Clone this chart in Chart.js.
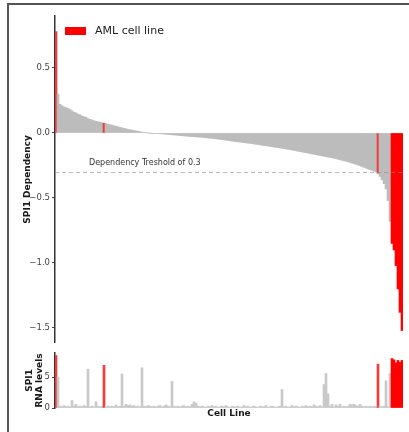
<!DOCTYPE html>
<html>
<head>
<meta charset="utf-8">
<script src="https://cdn.jsdelivr.net/npm/chart.js@4/dist/chart.umd.min.js"></script>
<style>
  html, body { margin: 0; padding: 0; background: #fff; }
  body { width: 409px; height: 432px; position: relative; overflow: hidden; }
  #frame { position: absolute; left: 7px; top: 3px; right: -4px; bottom: -4px;
           border-top: 2px solid #555; border-left: 2px solid #555; }
  canvas { position: absolute; left: 0; }
  #dep { top: 0; }
  #rna { top: 345px; }
</style>
</head>
<body>
<div id="frame"></div>
<canvas id="dep" width="409" height="350"></canvas>
<canvas id="rna" width="409" height="87"></canvas>
<script>
// ---- data ----
const DEPENDENCY = [
  0.78, 0.30, 0.22, 0.21, 0.20, 0.195, 0.19, 0.18, 0.17, 0.16,
  0.155, 0.145, 0.14, 0.13, 0.125, 0.12, 0.11, 0.105, 0.10, 0.095,
  0.09, 0.087, 0.083, 0.079, 0.075, 0.072, 0.068, 0.064, 0.06, 0.056,
  0.052, 0.048, 0.044, 0.04, 0.036, 0.032, 0.028, 0.025, 0.022, 0.019,
  0.016, 0.013, 0.01, 0.007, 0.004, 0.002, 0.0, -0.001, -0.002, -0.003,
  -0.004, -0.005, -0.006, -0.007, -0.008, -0.01, -0.011, -0.012, -0.014, -0.015,
  -0.017, -0.018, -0.02, -0.021, -0.022, -0.024, -0.025, -0.027, -0.028, -0.029,
  -0.03, -0.031, -0.032, -0.034, -0.035, -0.037, -0.038, -0.04, -0.041, -0.043,
  -0.045, -0.047, -0.049, -0.051, -0.053, -0.055, -0.057, -0.06, -0.062, -0.064,
  -0.066, -0.068, -0.07, -0.072, -0.074, -0.076, -0.078, -0.08, -0.082, -0.085,
  -0.087, -0.089, -0.091, -0.094, -0.096, -0.098, -0.1, -0.103, -0.105, -0.108,
  -0.11, -0.113, -0.115, -0.118, -0.12, -0.123, -0.126, -0.128, -0.131, -0.134,
  -0.137, -0.14, -0.143, -0.146, -0.149, -0.152, -0.155, -0.158, -0.161, -0.164,
  -0.167, -0.17, -0.173, -0.176, -0.179, -0.182, -0.185, -0.188, -0.191, -0.195,
  -0.198, -0.202, -0.206, -0.21, -0.214, -0.218, -0.222, -0.226, -0.231, -0.236,
  -0.241, -0.246, -0.252, -0.258, -0.264, -0.27, -0.276, -0.282, -0.288, -0.294,
  -0.30, -0.31, -0.335, -0.36, -0.39, -0.43, -0.52, -0.68, -0.85, -0.9,
  -1.02, -1.2, -1.38, -1.52
];
const RNA_LEVELS = [
  8.5, 5.0, 0.3, 0.2, 0.4, 0.2, 0.3, 0.2, 1.2, 0.3,
  0.6, 0.2, 0.3, 0.2, 0.4, 0.3, 6.3, 0.2, 0.3, 0.2,
  1.0, 0.3, 0.2, 0.3, 6.9, 0.2, 0.3, 0.2, 0.3, 0.2,
  0.5, 0.2, 0.3, 5.5, 0.3, 0.6, 0.4, 0.5, 0.3, 0.4,
  0.2, 0.3, 0.2, 6.5, 0.3, 0.2, 0.4, 0.3, 0.2, 0.3,
  0.2, 0.3, 0.4, 0.2, 0.3, 0.5, 0.3, 0.2, 4.3, 0.3,
  0.2, 0.3, 0.2, 0.3, 0.4, 0.2, 0.3, 0.2, 0.6, 1.0,
  0.8, 0.3, 0.2, 0.3, 0.2, 0.1, 0.3, 0.2, 0.4, 0.2,
  0.3, 0.1, 0.2, 0.3, 0.2, 0.4, 0.2, 0.1, 0.3, 0.2,
  0.2, 0.3, 0.1, 0.2, 0.4, 0.2, 0.3, 0.1, 0.2, 0.3,
  0.2, 0.1, 0.3, 0.2, 0.2, 0.4, 0.1, 0.2, 0.3, 0.2,
  0.1, 0.2, 0.3, 3.0, 0.2, 0.3, 0.1, 0.2, 0.4, 0.2,
  0.3, 0.2, 0.1, 0.3, 0.2, 0.4, 0.2, 0.3, 0.2, 0.5,
  0.3, 0.2, 0.4, 0.2, 3.8, 5.6, 2.3, 0.3, 0.6, 0.2,
  0.5, 0.3, 0.6, 0.2, 0.3, 0.2, 0.3, 0.6, 0.5, 0.6,
  0.4, 0.3, 0.6, 0.3, 0.2, 0.3, 0.2, 0.3, 0.2, 0.3,
  0.2, 7.1, 0.3, 0.2, 0.3, 4.4, 0.2, 5.6, 8.0, 7.8,
  7.3, 7.7, 7.4, 7.7
];
const AML_INDEX = [0, 24, 161, 168, 169, 170, 171, 172, 173];
const CELL_LINES = DEPENDENCY.map((_, i) => 'cell line ' + (i + 1));
const DEP_TICKS = [0.5, 0.0, -0.5, -1.0, -1.5];
const RNA_TICKS = [0, 5];
const THRESHOLD = -0.3;
const THRESHOLD_LABEL = 'Dependency Treshold of 0.3';
const LEGEND_LABEL = 'AML cell line';

// ---- styling ----
const FONT = 'DejaVu Sans';
const RED = '#ff0000';
const RED_THIN = '#f03c3c';
const GREY = '#bcbcbc';
const GREY_RNA = '#c9c9c9';
const isAML = i => AML_INDEX.includes(i);
const isIsolatedAML = i => isAML(i) && !isAML(i - 1) && !isAML(i + 1);
const redFor = i => isIsolatedAML(i) ? RED_THIN : RED;

const yTitleFont = { family: FONT, size: 9, weight: 'bold', lineHeight: 1.1 };
const tickFont = { family: FONT, size: 8.5 };
const fmt = v => (v < 0 ? '\u2212' : '') + Math.abs(v).toFixed(1);

const thresholdPlugin = {
  id: 'threshold',
  afterDatasetsDraw(chart) {
    const { ctx, chartArea, scales } = chart;
    const y = scales.y.getPixelForValue(THRESHOLD);
    ctx.save();
    ctx.strokeStyle = 'rgba(140,140,140,0.6)';
    ctx.lineWidth = 1;
    ctx.setLineDash([4, 3]);
    ctx.beginPath();
    ctx.moveTo(chartArea.left, Math.round(y) + 0.5);
    ctx.lineTo(chartArea.right + 2, Math.round(y) + 0.5);
    ctx.stroke();
    ctx.setLineDash([]);
    ctx.fillStyle = '#333';
    ctx.font = '8px "' + FONT + '"';
    ctx.textAlign = 'left';
    ctx.textBaseline = 'middle';
    ctx.fillText(THRESHOLD_LABEL, chartArea.left + 34, y - 9);
    ctx.restore();
  }
};

const legendPlugin = {
  id: 'amlLegend',
  afterDraw(chart) {
    const { ctx, chartArea } = chart;
    const x = chartArea.left + 10, y = chartArea.top + 15;
    ctx.save();
    ctx.fillStyle = RED;
    ctx.fillRect(x, y - 4, 21, 8);
    ctx.fillStyle = '#222';
    ctx.font = '11px "' + FONT + '"';
    ctx.textAlign = 'left';
    ctx.textBaseline = 'middle';
    ctx.fillText(LEGEND_LABEL, x + 30, y);
    ctx.restore();
  }
};

new Chart(document.getElementById('dep'), {
  type: 'bar',
  data: {
    labels: CELL_LINES,
    datasets: [{
      label: 'SPI1 Dependency',
      data: DEPENDENCY,
      backgroundColor: DEPENDENCY.map((_, i) => isAML(i) ? redFor(i) : GREY),
      borderWidth: 0,
      barPercentage: 1,
      categoryPercentage: 1
    }]
  },
  options: {
    responsive: false,
    devicePixelRatio: 1,
    animation: false,
    layout: { padding: { top: 16, right: 6, bottom: 7, left: 0 } },
    plugins: { legend: { display: false }, tooltip: { enabled: false } },
    scales: {
      x: { display: false },
      y: {
        min: -1.615, max: 0.9,
        afterFit: s => { s.width = 55; },
        afterBuildTicks: s => { s.ticks = DEP_TICKS.map(v => ({ value: v })); },
        ticks: { font: tickFont, color: '#444', padding: 2, callback: v => fmt(v) },
        grid: { drawOnChartArea: false, tickLength: 3, tickColor: '#444' },
        border: { display: true, color: '#333', width: 1.5 },
        title: { display: true, text: 'SPI1 Dependency', font: yTitleFont, color: '#1a1a1a',
                 padding: { top: 23, bottom: 0 } }
      }
    }
  },
  plugins: [thresholdPlugin, legendPlugin]
});

new Chart(document.getElementById('rna'), {
  type: 'bar',
  data: {
    labels: CELL_LINES,
    datasets: [{
      label: 'SPI1 RNA levels',
      data: RNA_LEVELS,
      backgroundColor: RNA_LEVELS.map((_, i) => isAML(i) ? redFor(i) : GREY_RNA),
      borderWidth: 0,
      barPercentage: 1,
      categoryPercentage: 1
    }]
  },
  options: {
    responsive: false,
    devicePixelRatio: 1,
    animation: false,
    layout: { padding: { top: 8, right: 6, bottom: 0, left: 0 } },
    plugins: { legend: { display: false }, tooltip: { enabled: false } },
    scales: {
      x: {
        display: true,
        afterFit: s => { s.height = 24; },
        ticks: { display: false },
        grid: { display: false },
        border: { display: false },
        title: { display: true, text: 'Cell Line', font: { family: FONT, size: 9, weight: 'bold' },
                 color: '#1a1a1a', padding: { top: 0, bottom: 13 } }
      },
      y: {
        min: 0, max: 8.9,
        afterFit: s => { s.width = 55; },
        afterBuildTicks: s => { s.ticks = RNA_TICKS.map(v => ({ value: v })); },
        ticks: { font: tickFont, color: '#444', padding: 2, callback: v => String(v) },
        grid: { drawOnChartArea: false, tickLength: 3, tickColor: '#444' },
        border: { display: true, color: '#333', width: 1.5 },
        title: { display: true, text: ['SPI1', 'RNA levels'], font: yTitleFont, color: '#1a1a1a',
                 padding: { top: 25, bottom: 0 } }
      }
    }
  }
});
</script>
</body>
</html>
